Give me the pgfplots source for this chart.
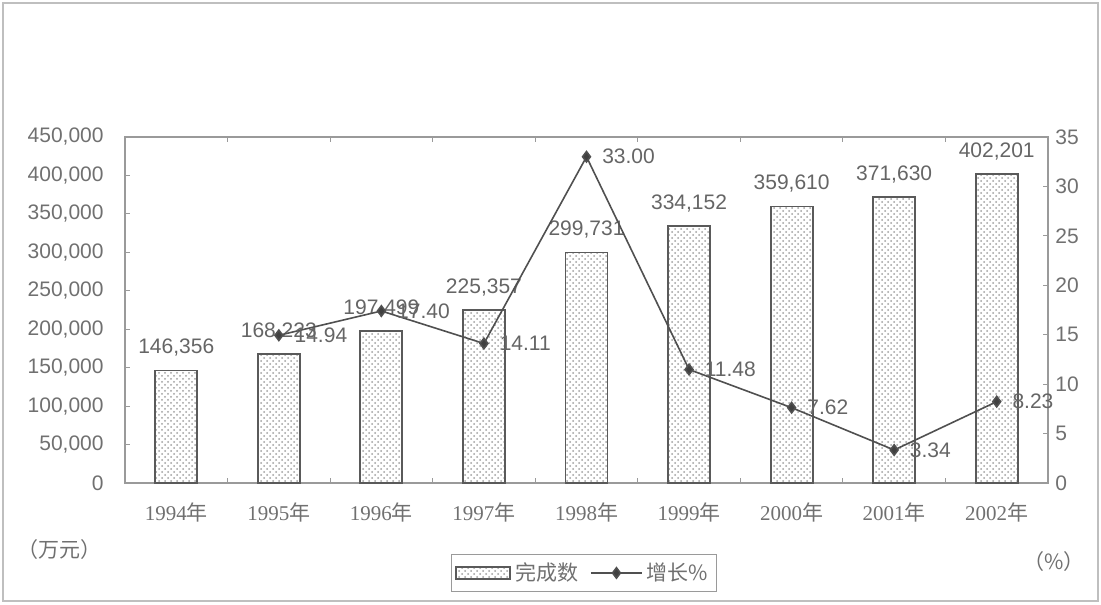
\documentclass[border=0pt]{standalone}
\usepackage{pgfplots}
\pgfplotsset{compat=1.18}
\usepackage{fontspec}
\setmainfont{Liberation Sans}
\newfontfamily\cjk{Noto Sans CJK SC}
\newfontfamily\serifnum{Liberation Serif}
\usetikzlibrary{patterns}
\definecolor{axgray}{HTML}{9A9A9A}
\definecolor{txtgray}{HTML}{707070}
\definecolor{bargray}{HTML}{5A5A5A}
\definecolor{linegray}{HTML}{505050}
\newcommand{\yr}[1]{{\serifnum #1}{\cjk 年}}
\pgfplotsset{
  widebar legend/.style={legend image code/.code={\draw[##1] (0cm,-0.11cm) rectangle (0.95cm,0.11cm);}},
  wideline legend/.style={legend image code/.code={\draw[##1, mark repeat=2, mark phase=2] plot coordinates {(0cm,0cm) (0.45cm,0cm) (0.9cm,0cm)};}},
}
\begin{document}
\begin{tikzpicture}[x=1pt,y=1pt]
\fontsize{10.5}{12}\selectfont
\path[use as bounding box] (0,0) rectangle (550.5,302);
\draw[gray!50, line width=0.7pt] (1.5,1.5) rectangle (549,300.5);
\begin{axis}[
  at={(62.5pt,60.5pt)}, anchor=south west,
  scale only axis, width=461.5pt, height=173pt,
  xmin=-0.5, xmax=8.5, ymin=0, ymax=450000,
  ytick={0,50000,...,450000},
  scaled y ticks=false,
  /pgf/number format/fixed, /pgf/number format/precision=0,
  /pgf/number format/1000 sep={,}, /pgf/number format/assume math mode=true,
  yticklabel style={font=\fontsize{10.5}{12}\selectfont, text=txtgray, xshift=-7pt},
  xtick={0,...,8},
  xticklabels={\yr{1994},\yr{1995},\yr{1996},\yr{1997},\yr{1998},\yr{1999},\yr{2000},\yr{2001},\yr{2002}},
  xticklabel style={font=\fontsize{10.5}{12}\selectfont, text=txtgray, yshift=-6pt},
  major x tick style={draw=none},
  minor xtick={0.5,1.5,...,7.5},
  tick align=inside,
  major tick length=2.5pt, minor tick length=2.5pt,
  tick style={axgray, line width=0.6pt},
  ytick pos=left,
  axis line style={axgray, line width=0.7pt},
  nodes near coords={\pgfmathprintnumber{\pgfplotspointmeta}},
  point meta=y,
  every node near coord/.append style={font=\fontsize{10.5}{12}\selectfont, text=txtgray!90!black, anchor=south, yshift=3pt},
  clip=false,
]
\addplot[ybar, bar width=21pt, draw=bargray, line width=0.9pt, pattern=crosshatch dots, pattern color=gray!75]
coordinates {(0,146356) (1,168223) (2,197499) (3,225357) (4,299731) (5,334152) (6,359610) (7,371630) (8,402201)};
\end{axis}
\begin{axis}[
  at={(62.5pt,60.5pt)}, anchor=south west,
  scale only axis, width=461.5pt, height=173pt,
  xmin=-0.5, xmax=8.5, ymin=0, ymax=35,
  axis x line=none,
  axis y line*=right,
  ytick={0,5,...,35},
  /pgf/number format/assume math mode=true,
  yticklabel style={font=\fontsize{10.5}{12}\selectfont, text=txtgray},
  tick align=inside,
  major tick length=2.5pt,
  tick style={axgray, line width=0.6pt},
  axis line style={axgray, line width=0.7pt},
  clip=false,
  legend style={at={(0.497,-0.26)}, anchor=center, draw=axgray, line width=0.6pt, legend columns=2,
    font=\cjk\fontsize{10.5}{12}\selectfont, text=txtgray, inner sep=2pt,
    /tikz/every even column/.append style={column sep=4pt}},
]
\addlegendimage{area legend, draw=bargray, line width=0.9pt, pattern=crosshatch dots, pattern color=gray!75, widebar legend}
\addlegendentry{完成数}
\addplot[linegray, line width=0.8pt, mark=diamond*, mark size=2.6pt, mark options={fill=linegray!80!black},
  nodes near coords, point meta=explicit symbolic,
  every node near coord/.append style={font=\fontsize{10.5}{12}\selectfont, text=txtgray!90!black, anchor=west, xshift=4pt, yshift=0pt},
  wideline legend]
coordinates {(1,14.94) [14.94] (2,17.40) [17.40] (3,14.11) [14.11] (4,33.00) [33.00] (5,11.48) [11.48] (6,7.62) [7.62] (7,3.34) [3.34] (8,8.23) [8.23]};
\addlegendentry{增长\%}
\end{axis}
\node[text=txtgray, font=\cjk\fontsize{10.5}{12}\selectfont] at (30,27) {（万元）};
\node[text=txtgray, font=\cjk\fontsize{10.5}{12}\selectfont] at (527,21) {（\%）};
\end{tikzpicture}
\end{document}
